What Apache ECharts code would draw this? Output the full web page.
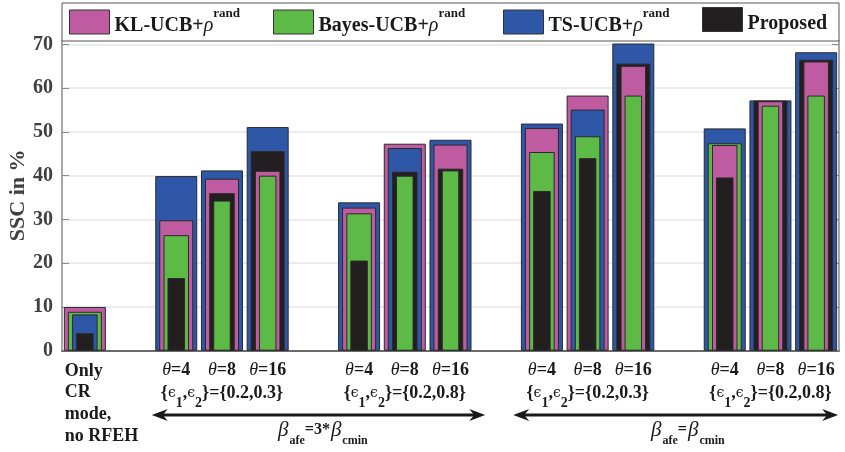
<!DOCTYPE html>
<html><head><meta charset="utf-8">
<script src="https://cdn.jsdelivr.net/npm/echarts@6/dist/echarts.min.js"></script>
<style>html,body{margin:0;padding:0;background:#fff}#c{width:845px;height:452px}</style>
</head><body><div id="c"></div>
<script>
// ---------------- data ----------------
const methods = ['KL-UCB+ρ rand', 'Bayes-UCB+ρ rand', 'TS-UCB+ρ rand', 'Proposed'];
const colors = ['#BF5CA1', '#5DBA47', '#2F57A8', '#231F20'];
const barLabels = ['Only CR', 'θ=4', 'θ=8', 'θ=16', 'θ=4', 'θ=8', 'θ=16', 'θ=4', 'θ=8', 'θ=16', 'θ=4', 'θ=8', 'θ=16'];
const klUcb    = [10.0, 29.8, 39.3, 41.1, 32.7, 47.3, 47.1, 50.9, 58.3, 65.1, 47.0, 57.0, 66.1];
const bayesUcb = [8.9, 26.4, 34.3, 40.0, 31.4, 40.0, 41.2, 45.4, 49.0, 58.3, 47.4, 56.0, 58.3];
const tsUcb    = [8.3, 39.9, 41.2, 51.1, 33.9, 46.3, 48.2, 51.9, 55.1, 70.2, 50.8, 57.2, 68.2];
const proposed = [4.0, 16.6, 36.0, 45.6, 20.6, 40.9, 41.6, 36.5, 44.0, 65.6, 39.6, 57.15, 66.5];
const yTicks = [0, 10, 20, 30, 40, 50, 60, 70];
const firstLabel = ['Only', 'CR', 'mode,', 'no RFEH'];
const epsPairs = ['0.2,0.3', '0.2,0.8', '0.2,0.3', '0.2,0.8'];
const betaTexts = [['afe', '=3*', 'cmin'], ['afe', '=', 'cmin']];
const yName = 'SSC in %';

// slot layout: 17 category slots, gaps between groups
const slotOf = [0, 2, 3, 4, 6, 7, 8, 10, 11, 12, 14, 15, 16];
const NS = 17;
const cats = Array.from({length: NS}, (_, s) => { const k = slotOf.indexOf(s); return k < 0 ? 'gap' + s : 'bar' + k; });
const all = [klUcb, bayesUcb, tsUcb, proposed];
const widths = [42, 34, 25.5, 17.5];
const rankData = [[], [], [], []];
for (let s = 0; s < NS; s++) {
  const k = slotOf.indexOf(s);
  if (k < 0) { rankData.forEach(a => a.push('-')); continue; }
  const order = [0, 1, 2, 3].sort((a, b) => all[b][k] - all[a][k]);
  order.forEach((m, r) => rankData[r].push({value: all[m][k], itemStyle: {color: colors[m]}}));
}

const SERIF = 'Liberation Serif, Times New Roman, DejaVu Serif, serif';
const chart = echarts.init(document.getElementById('c'), null, {renderer: 'canvas'});

const legendFmt = name => {
  if (name === 'Proposed') return '{n|Proposed}';
  const base = name.replace('ρ rand', '');
  return '{n|' + base + '}{r|ρ}{s|rand}';
};
const legendRich = {
  n: {fontFamily: SERIF, fontWeight: 'bold', fontSize: 20, color: '#1a1a1a', lineHeight: 38},
  r: {fontFamily: SERIF, fontStyle: 'italic', fontSize: 20, color: '#1a1a1a', lineHeight: 38},
  s: {fontFamily: SERIF, fontWeight: 'bold', fontSize: 13, color: '#1a1a1a', lineHeight: 8, verticalAlign: 'top'}
};
const legendLeft = [69, 273, 503, 702];

const xAxes = [];
for (let i = 0; i < 5; i++) {
  xAxes.push({
    type: 'category', data: cats, gridIndex: 0, show: i === 0,
    axisLine: {show: true, lineStyle: {color: '#6a6a6a', width: 2}},
    axisTick: {show: false},
    axisLabel: {
      show: true, interval: 0, margin: 10,
      formatter: (v, idx) => {
        const k = slotOf.indexOf(idx);
        if (k <= 0) return '';
        return '{t|θ}{b|' + barLabels[k].slice(1) + '}';
      },
      rich: {
        t: {fontFamily: SERIF, fontStyle: 'italic', fontSize: 18, color: '#1a1a1a', lineHeight: 20},
        b: {fontFamily: SERIF, fontWeight: 'bold', fontSize: 18, color: '#1a1a1a', lineHeight: 20}
      }
    }
  });
}

const series = [];
for (let r = 0; r < 4; r++) {
  series.push({
    type: 'bar', xAxisIndex: r, yAxisIndex: 0, barWidth: widths[r], data: rankData[r],
    itemStyle: {borderColor: '#2a2a2a', borderWidth: 1}, silent: true
  });
}
methods.forEach((m, i) => series.push({
  type: 'bar', name: m, xAxisIndex: 4, yAxisIndex: 0, data: [],
  itemStyle: {color: colors[i], borderColor: '#333', borderWidth: 1}
}));

const option = {
  animation: false,
  backgroundColor: '#fff',
  grid: {left: 62, right: 6, top: 40, bottom: 101.3, containLabel: false, outerBoundsMode: 'none'},
  legend: methods.map((m, i) => ({
    data: [m], left: legendLeft[i], top: 7, padding: 0, itemWidth: 40, itemHeight: 32, itemGap: 0,
    icon: 'path://M0,0H40V24H0Z M0,32L0,32', symbolKeepAspect: false,
    selectedMode: false, formatter: legendFmt,
    itemStyle: {borderColor: '#333', borderWidth: 1},
    textStyle: {rich: legendRich}
  })),
  xAxis: xAxes,
  yAxis: [{
    type: 'value', min: 0, max: 71, interval: 10,
    name: yName, nameLocation: 'middle', nameGap: 33, nameMoveOverlap: false,
    nameTextStyle: {fontFamily: SERIF, fontWeight: 'bold', fontSize: 22, color: '#404040'},
    axisLine: {show: true, lineStyle: {color: '#8a8a8a', width: 1.5}},
    axisTick: {show: true, inside: true, length: 7, lineStyle: {color: '#8a8a8a'}},
    axisLabel: {
      margin: 9, fontFamily: SERIF, fontWeight: 'bold', fontSize: 20, color: '#404040',
      formatter: v => (yTicks.indexOf(v) >= 0 ? String(v) : '')
    },
    splitLine: {show: true, lineStyle: {color: '#e6e6e6', width: 1.5}}
  }, {
    type: 'value', min: 0, max: 71, interval: 10, position: 'right',
    axisLine: {show: true, lineStyle: {color: '#8a8a8a', width: 1.5}},
    axisTick: {show: true, inside: true, length: 7, lineStyle: {color: '#8a8a8a'}},
    axisLabel: {show: false}, splitLine: {show: false}
  }],
  series: series
};
chart.setOption(option);

// ---------------- annotations below the axis ----------------
const xOf = s => chart.convertToPixel({xAxisIndex: 0}, s);
const g = [];
g.push({type: 'rect', z: 3, shape: {x: 62, y: 3, width: 777, height: 38},
  style: {fill: '#fff', stroke: '#555', lineWidth: 1}});
g.push({type: 'text', z: 5, style: {
  text: firstLabel.join('\n'), x: xOf(0) - 20, y: 360, align: 'left', verticalAlign: 'top',
  fontFamily: SERIF, fontWeight: 'bold', fontSize: 18, lineHeight: 21.7, fill: '#1a1a1a'}});
const epsRich = {
  e: {fontFamily: 'DejaVu Serif, ' + SERIF, fontSize: 14, fontWeight: 'normal', lineHeight: 34, fill: '#1a1a1a'},
  sub: {fontFamily: SERIF, fontWeight: 'bold', fontSize: 14, lineHeight: 13, verticalAlign: 'bottom', fill: '#1a1a1a'}
};
[3, 7, 11, 15].forEach((s, j) => {
  g.push({type: 'text', z: 5, style: {
    text: '{' + '{e|ϵ}{sub|1}' + ',' + '{e|ϵ}{sub|2}' + '}={' + epsPairs[j] + '}',
    x: xOf(s), y: 376.5, align: 'center', verticalAlign: 'top',
    fontFamily: SERIF, fontWeight: 'bold', fontSize: 18, lineHeight: 34, fill: '#1a1a1a', rich: epsRich}});
});
// arrows
const arrow = (x1, x2, y) => {
  g.push({type: 'line', z: 5, shape: {x1: x1 + 10, y1: y, x2: x2 - 10, y2: y}, style: {stroke: '#1a1a1a', lineWidth: 3}});
  g.push({type: 'polygon', z: 5, shape: {points: [[x1, y], [x1 + 16, y - 6], [x1 + 11, y], [x1 + 16, y + 6]]}, style: {fill: '#1a1a1a'}});
  g.push({type: 'polygon', z: 5, shape: {points: [[x2, y], [x2 - 16, y - 6], [x2 - 11, y], [x2 - 16, y + 6]]}, style: {fill: '#1a1a1a'}});
};
arrow(xOf(2) - 24.5, xOf(9) - 11, 415);
arrow(xOf(9) + 17, xOf(16) + 22, 415);
const betaRich = {
  g: {fontFamily: SERIF, fontStyle: 'italic', fontWeight: 'normal', fontSize: 21, lineHeight: 34, fill: '#1a1a1a', padding: [0, 1, 0, 1]},
  m: {fontFamily: SERIF, fontWeight: 'bold', fontSize: 16, lineHeight: 34, fill: '#1a1a1a'},
  sub: {fontFamily: SERIF, fontWeight: 'bold', fontSize: 12, lineHeight: 11, verticalAlign: 'bottom', fill: '#1a1a1a'}
};
[[5, -36.4, 0], [13, -29, 1]].forEach(([s, dx, j]) => {
  const t = betaTexts[j];
  g.push({type: 'text', z: 5, style: {
    text: '{g|β}{sub|' + t[0] + '}{m|' + t[1] + '}{g|β}{sub|' + t[2] + '}',
    x: xOf(s) + dx, y: 413, align: 'left', verticalAlign: 'top', lineHeight: 34, rich: betaRich}});
});
chart.setOption({graphic: g});
</script>
</body></html>
